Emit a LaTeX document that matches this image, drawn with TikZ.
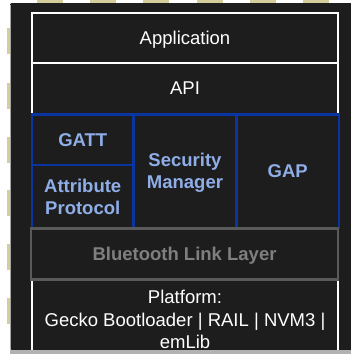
\documentclass[tikz,border=0pt]{standalone}
\usepackage{fontspec}
\setmainfont{Liberation Sans}
\definecolor{chip}{HTML}{1D1D1D}
\definecolor{pincol}{HTML}{D6CD9C}
\definecolor{bluel}{HTML}{0A34A0}
\definecolor{bluet}{HTML}{8FAEE8}
\definecolor{grayl}{HTML}{5A5A5A}
\definecolor{grayt}{HTML}{7F7F7F}
\tikzset{
  lay/.style={draw=white, line width=2.5pt, text=white, inner sep=0pt, align=center,
              text depth=0pt, font=\fontsize{18.5}{22.5}\selectfont},
  bluebox/.style={draw=bluel, line width=2.5pt, text=bluet, inner sep=0pt, align=center,
              text depth=0pt, font=\fontsize{18.5}{22}\selectfont\bfseries},
  graybox/.style={draw=grayl, line width=2.5pt, text=grayt, inner sep=0pt, align=center,
              text depth=0pt, font=\fontsize{18.5}{22}\selectfont\bfseries},
  pinbar/.style={fill=pincol, draw=none}
}
\begin{document}
\begin{tikzpicture}[x=1pt,y=-1pt]
\useasboundingbox (0,0) rectangle (351,354);
\fill[white] (0,0) rectangle (351,354);
% chip body
\fill[chip, rounded corners=2pt] (10,3) rectangle (360,350);
\draw[gray!70, line width=1pt] (10.5,5) -- (10.5,349);
\fill[gray!60] (10,350) rectangle (351,354);
% pins
\foreach \px in {37,90,143,197,250,303} \path[pinbar] (\px,0) rectangle ++(26,3);
\foreach \py in {28,83,137,190,244,298} \path[pinbar] (7,\py) rectangle ++(3,26);
% layers
\node[lay, minimum width=306pt, minimum height=50pt] (app) at (185,38) {Application};
\node[lay, minimum width=306pt, minimum height=51pt] (api) at (185,88.5) {API};
\node[draw=none, text=white, align=center, inner sep=0pt,
      font=\fontsize{18.5}{22.5}\selectfont] (plat) at (185,319.5)
      {Platform:\\Gecko Bootloader | RAIL | NVM3 |\\emLib};
\draw[white, line width=2.5pt] (32,279) -- (32,350) (338,279) -- (338,350);
\node[bluebox, minimum width=101.5pt, minimum height=50.5pt] (gatt) at (82.75,139.75) {GATT};
\node[bluebox, minimum width=101.5pt, minimum height=63pt] (att) at (82.75,196.5) {Attribute\\Protocol};
\node[bluebox, minimum width=103pt, minimum height=113.5pt] (sec) at (185,171.25) {Security\\Manager};
\node[bluebox, minimum width=102.5pt, minimum height=113.5pt] (gap) at (287.75,171.25) {GAP};
\node[graybox, minimum width=307pt, minimum height=51pt] (bll) at (184.5,254) {Bluetooth Link Layer};
\end{tikzpicture}
\end{document}
